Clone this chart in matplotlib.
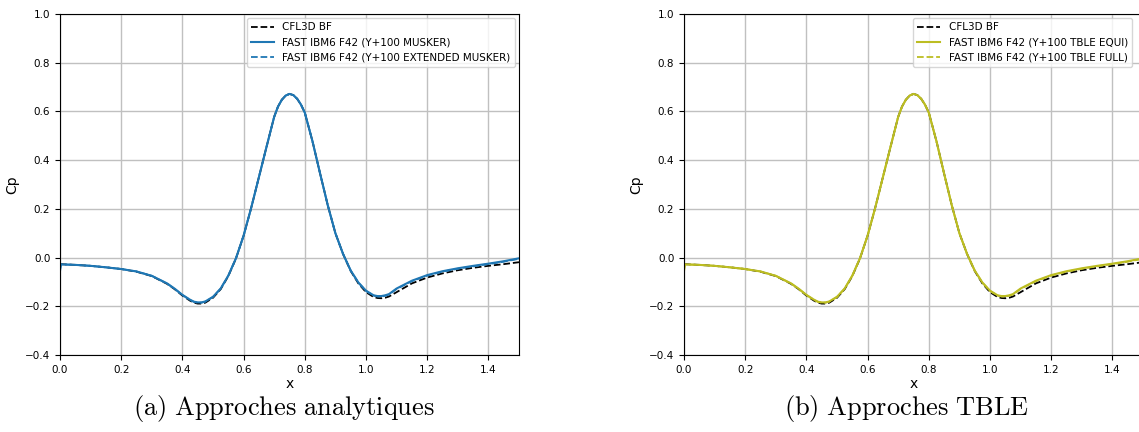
import matplotlib
matplotlib.use('Agg')
import matplotlib.pyplot as plt

plt.rcParams['mathtext.fontset'] = 'cm'

# Cp distribution, values
x = [0.0, 0.05, 0.1, 0.15, 0.2, 0.25, 0.3, 0.35, 0.375, 0.4, 0.425, 0.4375, 0.45,
     0.4625, 0.475, 0.5, 0.525, 0.55, 0.575, 0.6, 0.625, 0.65, 0.675, 0.7, 0.7125,
     0.725, 0.7375, 0.75, 0.7625, 0.775, 0.7875, 0.8, 0.825, 0.85, 0.875, 0.9,
     0.925, 0.95, 0.975, 1.0, 1.025, 1.0375, 1.05, 1.0625, 1.075, 1.1, 1.15, 1.2,
     1.25, 1.3, 1.35, 1.4, 1.45, 1.5]
cp_cfl3d = [-0.027, -0.030, -0.034, -0.040, -0.047, -0.058, -0.076, -0.108, -0.130,
            -0.156, -0.177, -0.185, -0.189, -0.189, -0.185, -0.165, -0.130, -0.076,
            -0.004, 0.090, 0.205, 0.330, 0.455, 0.578, 0.620, 0.648, 0.665, 0.672,
            0.667, 0.652, 0.628, 0.595, 0.478, 0.345, 0.215, 0.100, 0.015, -0.055,
            -0.106, -0.142, -0.162, -0.166, -0.167, -0.165, -0.160, -0.142, -0.106,
            -0.082, -0.065, -0.052, -0.042, -0.034, -0.027, -0.019]

x_fast = [0.0, 0.003] + x[1:]
cp_fast = [-0.055, -0.028, -0.030, -0.034, -0.040, -0.047, -0.057, -0.075, -0.106,
           -0.128, -0.153, -0.173, -0.181, -0.184, -0.184, -0.180, -0.161, -0.127,
           -0.074, -0.003, 0.090, 0.205, 0.330, 0.455, 0.578, 0.620, 0.648, 0.665,
           0.672, 0.667, 0.652, 0.628, 0.595, 0.478, 0.345, 0.215, 0.100, 0.015,
           -0.053, -0.102, -0.136, -0.155, -0.158, -0.158, -0.155, -0.150, -0.127,
           -0.095, -0.072, -0.056, -0.044, -0.034, -0.025, -0.015, -0.003]
cp_fast_ext = [-0.050, -0.028, -0.030, -0.034, -0.040, -0.047, -0.057, -0.075, -0.107,
               -0.129, -0.154, -0.174, -0.182, -0.185, -0.185, -0.181, -0.162, -0.128,
               -0.075, -0.003, 0.090, 0.205, 0.330, 0.455, 0.578, 0.620, 0.648, 0.665,
               0.672, 0.667, 0.652, 0.628, 0.595, 0.478, 0.345, 0.215, 0.100, 0.015,
               -0.054, -0.103, -0.137, -0.156, -0.160, -0.160, -0.157, -0.152, -0.129,
               -0.097, -0.074, -0.058, -0.046, -0.036, -0.027, -0.017, -0.005]

panels = [
    ('#1f77b4', 'FAST IBM6 F42 (Y+100 MUSKER)', 'FAST IBM6 F42 (Y+100 EXTENDED MUSKER)',
     r'$\mathrm{(a)\ Approches\ analytiques}$'),
    ('#bcbd22', 'FAST IBM6 F42 (Y+100 TBLE EQUI)', 'FAST IBM6 F42 (Y+100 TBLE FULL)',
     r'$\mathrm{(b)\ Approches\ TBLE}$'),
]

W, H = 1139, 432
fig = plt.figure(figsize=(W / 100, H / 100), dpi=100)

lefts = [60, 684]
cap_x = [284, 907]
leg_right = [1.0, 0.985]
for i, (col, lab1, lab2, caption) in enumerate(panels):
    ax = fig.add_axes([lefts[i] / W, 77 / H, 459 / W, 341 / H])
    ax.plot(x, cp_cfl3d, 'k--', lw=1.3, label='CFL3D BF')
    ax.plot(x_fast, cp_fast, '-', color=col, lw=1.5, label=lab1)
    ax.plot(x_fast, cp_fast_ext, '--', color=col, lw=1.3, label=lab2)
    ax.set_xlim(0, 1.5)
    ax.set_ylim(-0.4, 1.0)
    ax.set_xticks([0.0, 0.2, 0.4, 0.6, 0.8, 1.0, 1.2, 1.4])
    ax.set_yticks([-0.4, -0.2, 0.0, 0.2, 0.4, 0.6, 0.8, 1.0])
    ax.tick_params(labelsize=7.5)
    ax.grid(True, color='#c0c0c0', lw=1)
    ax.set_xlabel('x', fontsize=10, labelpad=2)
    ax.set_ylabel('Cp', fontsize=10)
    ax.legend(loc='upper right', bbox_to_anchor=(leg_right[i], 1.0), fontsize=7.5,
              handlelength=2.2, borderaxespad=0.4)
    fig.text(cap_x[i] / W, 1 - 409 / H, caption, ha='center', va='center', fontsize=19)

fig.savefig('out.png', dpi=100)
